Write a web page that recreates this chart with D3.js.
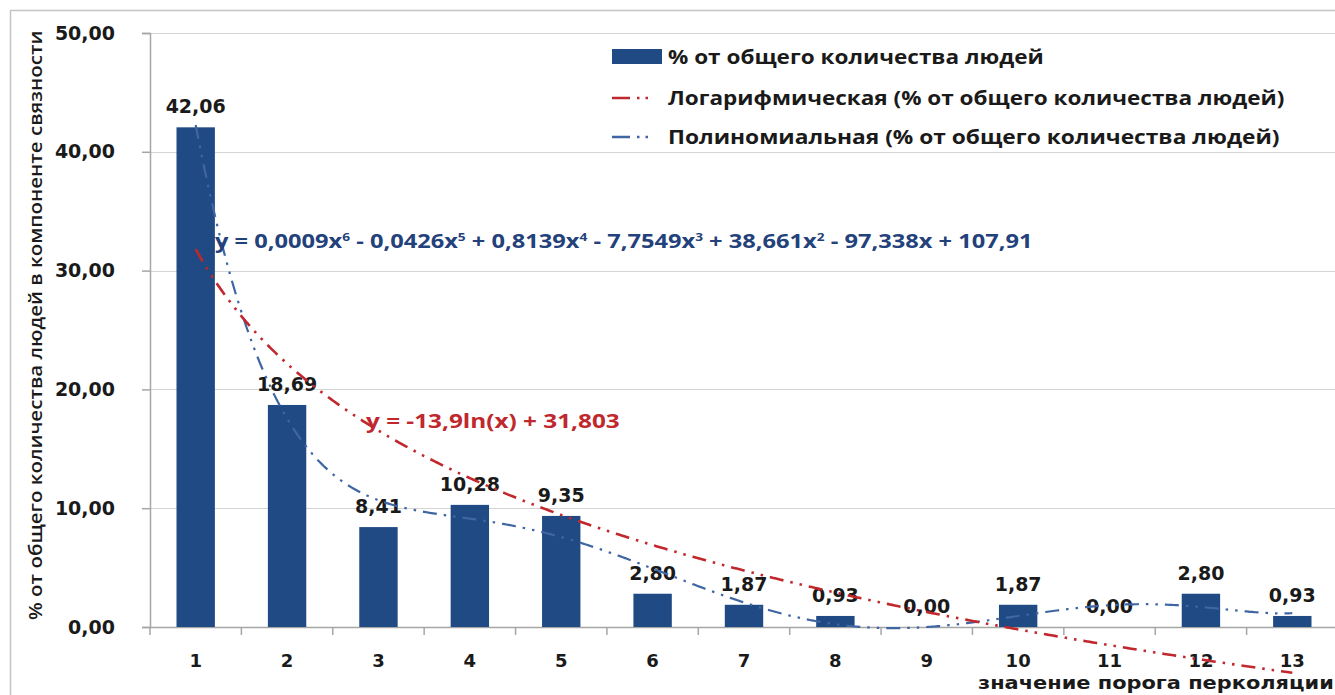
<!DOCTYPE html>
<html>
<head>
<meta charset="utf-8">
<script src="https://cdn.jsdelivr.net/npm/d3@7"></script>
<style>
  html, body { margin: 0; padding: 0; background: #fff; }
  svg { display: block; }
</style>
</head>
<body>
<svg id="chart" width="1335" height="695"></svg>
<script>
// Share of people in the connected component by percolation threshold
const categories = ["1","2","3","4","5","6","7","8","9","10","11","12","13"];
const shares = [42.06, 18.69, 8.41, 10.28, 9.35, 2.80, 1.87, 0.93, 0.00, 1.87, 0.00, 2.80, 0.93];
const yTicks = [0, 10, 20, 30, 40, 50];

// Trendline equations as printed (log: a*ln(x) + b; polynomial: x^6 .. x^0)
const logCoefs = [-13.9, 31.803];
const polyCoefs = [0.0009, -0.0426, 0.8139, -7.7549, 38.661, -97.338, 107.91];
const polyDegree = 6;

const legendLabels = [
  "% от общего количества людей",
  "Логарифмическая (% от общего количества людей)",
  "Полиномиальная (% от общего количества людей)"
];
const yTitle = "% от общего количества людей в компоненте связности";
const xTitle = "значение порога перколяции";

const fmt = v => d3.format(".2f")(v).replace(".", ",");
const num = v => v.toString().replace(".", ",");

const svg = d3.select("#chart");
const barColor = "#1F4A84";
const redColor = "#C0282D";
const blueColor = "#3F66A3";
const ink = "#1a1a1a";
const textFont = "Open Sans";
const numFont = "DejaVu Sans";

const plot = { left: 150, right: 1338, top: 33, bottom: 627 };

const x = d3.scaleBand().domain(categories)
  .range([plot.left, plot.right]).paddingInner(0.58).paddingOuter(0.29);
const y = d3.scaleLinear().domain([0, 50]).range([plot.bottom, plot.top]);
const xNum = d3.scaleLinear().domain([1, 13])
  .range([x("1") + x.bandwidth() / 2, x("13") + x.bandwidth() / 2]);

// stretch a text element horizontally so it spans the given width from its anchor x
function fitWidth(sel, width) {
  sel.each(function () {
    const w = this.getBBox().width;
    const x0 = +this.getAttribute("x") || 0;
    const s = width / w;
    const prev = this.getAttribute("transform") || "";
    this.setAttribute("transform", `${prev} translate(${x0},0) scale(${s},1) translate(${-x0},0)`);
  });
  return sel;
}

// least-squares polynomial fit (same procedure a spreadsheet trendline uses)
function polyFit(xs, ys, deg) {
  const mx = d3.mean(xs), sx = (d3.max(xs) - d3.min(xs)) / 2;
  const ts = xs.map(v => (v - mx) / sx);
  const n = deg + 1;
  const M = Array.from({ length: n }, () => new Array(n + 1).fill(0));
  ts.forEach((t, k) => {
    for (let i = 0; i < n; i++) {
      for (let j = 0; j < n; j++) M[i][j] += Math.pow(t, i + j);
      M[i][n] += Math.pow(t, i) * ys[k];
    }
  });
  for (let c = 0; c < n; c++) {
    let p = c;
    for (let r = c + 1; r < n; r++) if (Math.abs(M[r][c]) > Math.abs(M[p][c])) p = r;
    [M[c], M[p]] = [M[p], M[c]];
    for (let r = 0; r < n; r++) {
      if (r === c) continue;
      const f = M[r][c] / M[c][c];
      for (let k = c; k <= n; k++) M[r][k] -= f * M[c][k];
    }
  }
  const a = M.map((row, i) => row[n] / row[i]);
  return v => { const t = (v - mx) / sx; return a.reduceRight((acc, c) => acc * t + c, 0); };
}

// outer frame
svg.append("rect").attr("x", 10.5).attr("y", 10.5).attr("width", 1400).attr("height", 800)
  .attr("fill", "none").attr("stroke", "#c4c4c4").attr("stroke-width", 1.5);

// horizontal gridlines
svg.append("g").selectAll("line").data(yTicks.filter(d => d > 0)).join("line")
  .attr("x1", plot.left).attr("x2", 1335)
  .attr("y1", d => Math.round(y(d)) + 0.5).attr("y2", d => Math.round(y(d)) + 0.5)
  .attr("stroke", "#d4d4d4").attr("stroke-width", 1.2);

// y axis
const yAxis = svg.append("g").attr("transform", `translate(${plot.left},0)`)
  .call(d3.axisLeft(y).tickValues(yTicks).tickSize(8).tickPadding(27).tickFormat(fmt));
yAxis.select(".domain").attr("stroke", "#a6a6a6").attr("stroke-width", 1.5);
yAxis.selectAll(".tick line").attr("stroke", "#a6a6a6").attr("stroke-width", 1.5);
yAxis.selectAll(".tick text")
  .attr("font-family", numFont).attr("font-weight", "bold")
  .attr("font-size", 19).attr("fill", ink);

// x axis with ticks on category boundaries
const xAxisG = svg.append("g").attr("transform", `translate(0,${plot.bottom})`);
xAxisG.append("line").attr("x1", plot.left).attr("x2", 1335).attr("y1", 0.5).attr("y2", 0.5)
  .attr("stroke", "#a6a6a6").attr("stroke-width", 1.5);
xAxisG.selectAll("line.tk").data(d3.range(categories.length + 1)).join("line")
  .attr("class", "tk")
  .attr("x1", i => plot.left + i * x.step()).attr("x2", i => plot.left + i * x.step())
  .attr("y1", 0).attr("y2", 8)
  .attr("stroke", "#a6a6a6").attr("stroke-width", 1.5);
xAxisG.selectAll("text").data(categories).join("text")
  .attr("x", d => x(d) + x.bandwidth() / 2).attr("y", 40)
  .attr("text-anchor", "middle")
  .attr("font-family", numFont).attr("font-weight", "bold")
  .attr("font-size", 18).attr("fill", ink)
  .text(d => d);

// bars
svg.append("g").selectAll("rect").data(shares).join("rect")
  .attr("x", (d, i) => x(categories[i]))
  .attr("width", x.bandwidth())
  .attr("y", d => y(d))
  .attr("height", d => y(0) - y(d))
  .attr("fill", barColor);

// value labels
svg.append("g").selectAll("text").data(shares).join("text")
  .attr("x", (d, i) => x(categories[i]) + x.bandwidth() / 2)
  .attr("y", d => y(d) - 14)
  .attr("text-anchor", "middle")
  .attr("font-family", numFont).attr("font-weight", "bold")
  .attr("font-size", 19).attr("fill", ink)
  .text(fmt);

// trendlines
const xVals = categories.map(Number);
const xs = d3.range(1, 13.0001, 0.02);
const logFn = t => logCoefs[0] * Math.log(t) + logCoefs[1];
const polyFn = polyFit(xVals, shares, polyDegree);
const line = d3.line().x(d => xNum(d[0])).y(d => y(d[1]));
const dash = "14,7,2.5,7,2.5,7";

svg.append("path").datum(xs.map(t => [t, polyFn(t)]))
  .attr("d", line).attr("fill", "none")
  .attr("stroke", blueColor).attr("stroke-width", 2.2).attr("stroke-dasharray", dash);
svg.append("path").datum(xs.map(t => [t, logFn(t)]))
  .attr("d", line).attr("fill", "none")
  .attr("stroke", redColor).attr("stroke-width", 2.6).attr("stroke-dasharray", dash);

// trendline equations
const polyEq = svg.append("text").attr("x", 215).attr("y", 248)
  .attr("font-family", textFont).attr("font-weight", "bold").attr("font-size", 19)
  .attr("fill", "#23417A");
const powers = d3.range(polyDegree, -1, -1);
let raised = false;
polyEq.append("tspan").text("y = ");
polyCoefs.forEach((c, i) => {
  const sign = i === 0 ? (c < 0 ? "-" : "") : (c < 0 ? " - " : " + ");
  const p = powers[i];
  const base = polyEq.append("tspan").text(sign + num(Math.abs(c)) + (p > 0 ? "x" : ""));
  if (raised) { base.attr("dy", 7); raised = false; }
  if (p > 1) {
    polyEq.append("tspan").attr("font-size", 11).attr("dy", -7).text(p);
    raised = true;
  }
});
fitWidth(polyEq, 818);

const logEq = svg.append("text").attr("x", 366).attr("y", 428)
  .attr("font-family", textFont).attr("font-weight", "bold").attr("font-size", 19)
  .attr("fill", redColor)
  .text(`y = ${num(logCoefs[0])}ln(x) + ${num(logCoefs[1])}`);
fitWidth(logEq, 254);

// legend
const lg = svg.append("g");
lg.append("rect").attr("x", 612).attr("y", 49).attr("width", 50).attr("height", 15).attr("fill", barColor);
[[98, redColor], [137, blueColor]].forEach(([yy, col]) => {
  lg.append("line").attr("x1", 612).attr("x2", 652).attr("y1", yy).attr("y2", yy)
    .attr("stroke", col).attr("stroke-width", 2.6).attr("stroke-dasharray", "18,7,2.5,6,2.5,20");
});
const legendWidths = [376, 617, 612];
lg.selectAll("text").data(legendLabels).join("text")
  .attr("x", 668).attr("y", (d, i) => [64, 105, 144][i])
  .attr("font-family", textFont).attr("font-weight", "bold").attr("font-size", 19)
  .attr("fill", ink)
  .text(d => d)
  .each(function (d, i) { fitWidth(d3.select(this), legendWidths[i]); });

// axis titles
const yT = svg.append("text")
  .attr("x", 0).attr("y", 0)
  .attr("font-family", textFont).attr("font-weight", 600).attr("font-size", 18).attr("fill", ink)
  .text(yTitle);
fitWidth(yT, 590);
yT.attr("transform", `translate(42,620) rotate(-90) ${yT.attr("transform")}`);

const xT = svg.append("text").attr("x", 978).attr("y", 689)
  .attr("font-family", numFont).attr("font-weight", "bold").attr("font-size", 18)
  .attr("fill", ink).text(xTitle);
fitWidth(xT, 356);
</script>
</body>
</html>
